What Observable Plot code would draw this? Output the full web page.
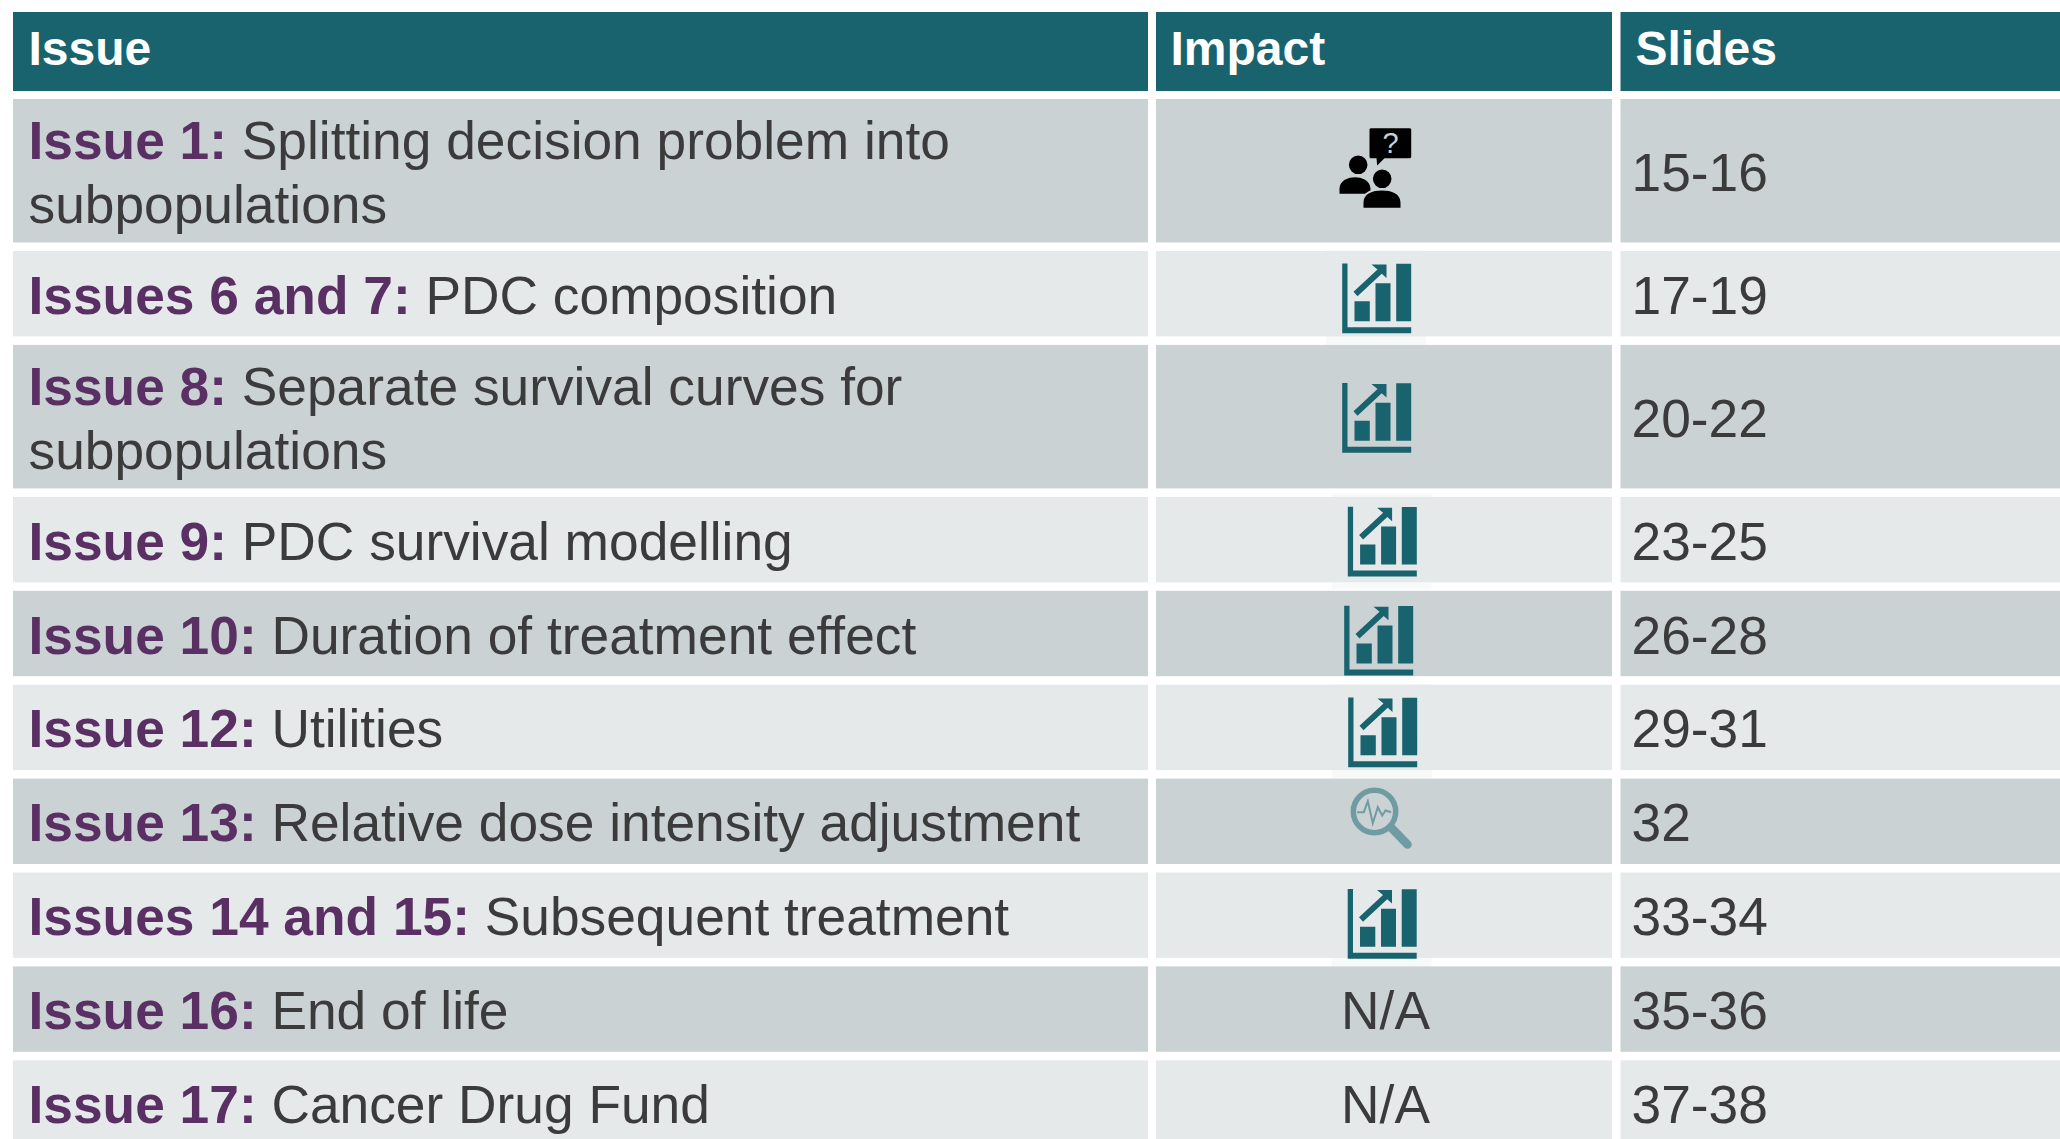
<!DOCTYPE html>
<html>
<head>
<meta charset="utf-8">
<script src="https://cdn.jsdelivr.net/npm/d3@7"></script>
<script src="https://cdn.jsdelivr.net/npm/@observablehq/plot@0.6"></script>
<style>
html,body{margin:0;padding:0;background:#fff;overflow:hidden}
svg{display:block}
</style>
</head>
<body>
<div id="chart"></div>
<script>
// ---- data ----
const headers = ["Issue", "Impact", "Slides"];
const issueLabels = ["Issue 1:", "Issues 6 and 7:", "Issue 8:", "Issue 9:", "Issue 10:", "Issue 12:", "Issue 13:", "Issues 14 and 15:", "Issue 16:", "Issue 17:"];
const issueTitles = [
  ["Splitting decision problem into", "subpopulations"],
  ["PDC composition"],
  ["Separate survival curves for", "subpopulations"],
  ["PDC survival modelling"],
  ["Duration of treatment effect"],
  ["Utilities"],
  ["Relative dose intensity adjustment"],
  ["Subsequent treatment"],
  ["End of life"],
  ["Cancer Drug Fund"]
];
const impacts = ["people", "chart", "chart", "chart", "chart", "chart", "search", "chart", "N/A", "N/A"];
const slides = ["15-16", "17-19", "20-22", "23-25", "26-28", "29-31", "32", "33-34", "35-36", "37-38"];

// ---- layout ----
const W = 2060, H = 1139;
const font = "'Liberation Sans', Arial, sans-serif";
const bodySize = 53.3, headSize = 48, lineGap = 63.7;
const colEdges = [[13, 1148], [1156, 1612], [1620.5, 2060]];
const colText = [28, 1170, 1631];
const headerBand = [12, 91];
const tableTop = 99, pitch = 93.9, doublePitch = 152, gap = 8.5;
const iconX = [1375, 1376, 1376, 1381.6, 1378, 1382, 1387, 1381.5];
const iconY = [167, 298, 417.5, 541.3, 640.3, 732, 822, 923.5];

const teal = "#19636e", darkRow = "#cbd2d4", lightRow = "#e5e9ea", purple = "#5a3064", ink = "#3b3b3b", patch = "#f8fafa";

const meas = document.createElement("canvas").getContext("2d");
meas.font = `bold ${bodySize}px ${font}`;

let cursor = tableTop;
const rows = issueLabels.map((label, i) => {
  const step = issueTitles[i].length > 1 ? doublePitch : pitch;
  const r = {
    i, label, titles: issueTitles[i], impact: impacts[i], slides: slides[i],
    y1: cursor, y2: cursor + step - gap, x: colText[0],
    restX: colText[0] + meas.measureText(label + " ").width
  };
  r.mid = (r.y1 + r.y2) / 2;
  cursor += step;
  return r;
});
const lines = rows.flatMap(r => r.titles.map((t, k) => ({
  text: t, x: k === 0 ? r.restX : colText[0],
  y: r.mid + (k - (r.titles.length - 1) / 2) * lineGap
})));
const labelRows = rows.map(r => ({
  label: r.label, y: r.mid + (r.titles.length > 1 ? -lineGap / 2 : 0)
}));
const cells = rows.flatMap(r => colEdges.map(c => ({x1: c[0], x2: c[1], y1: r.y1, y2: r.y2, odd: r.i % 2})));
const headCells = colEdges.map((c, k) => ({x1: c[0], x2: c[1], y1: headerBand[0], y2: headerBand[1], text: headers[k], tx: colText[k] + (k === 2 ? 4 : 0)}));

const iconRows = rows.filter(r => r.impact !== "N/A").map((r, k) => ({...r, ix: iconX[k], iy: iconY[k]}));
const ofKind = kind => iconRows.filter(r => r.impact === kind);
const textCell = rows.filter(r => r.impact === "N/A");
const patches = ofKind("chart").filter(r => r.i % 2).map(r => ({x1: r.ix - 50, x2: r.ix + 50, y1: r.iy - 48, y2: r.iy + 48}));

// ---- icon glyphs (drawn around the icon centre) ----
const poly = (c, pts) => { pts.forEach((p, k) => k ? c.lineTo(p[0], p[1]) : c.moveTo(p[0], p[1])); c.closePath(); };
const chartGlyph = {draw(c) {
  poly(c, [[-34.3, -35], [-29, -35], [-29, 28.7], [34.7, 28.7], [34.7, 34.7], [-34.3, 34.7]]);
  c.rect(-22, 2.7, 15.3, 20);
  c.rect(-1, -15.3, 15, 38);
  c.rect(19.7, -34.7, 15, 57.4);
  poly(c, [[-19, -2.3], [5.2, -24.8], [10, -20.5], [10, -34], [-5, -34], [1, -29], [-23, -6.7]]);
}};
const bubbleGlyph = {draw(c) {
  poly(c, [[-5, -39.3], [34.7, -39.3], [35.7, -38.3], [35.7, -10.3], [34.7, -9.3], [9, -9.3], [1.7, -2], [1, -9.3], [-5, -9.3], [-6, -10.3], [-6, -38.3]]);
}};
const person = (c, hx, hy, x0, x1, top, bot) => {
  c.moveTo(hx + 9.3, hy); c.arc(hx, hy, 9.3, 0, 2 * Math.PI); c.closePath();
  c.moveTo(x0, bot); c.lineTo(x0, bot - 5);
  c.bezierCurveTo(x0, top + 3, x0 + 9, top, (x0 + x1) / 2, top);
  c.bezierCurveTo(x1 - 9, top, x1, top + 3, x1, bot - 5);
  c.lineTo(x1, bot); c.closePath();
};
const personA = {draw(c) { person(c, -17.3, -2.7, -36, -5, 9.7, 26.3); }};
const personB = {draw(c) { person(c, 6.7, 11.3, -12, 25, 23, 40.3); }};
const ringGlyph = {draw(c) { c.moveTo(8.2, -11); c.arc(-13, -11, 21.2, 0, 2 * Math.PI); }};
const handleGlyph = {draw(c) { c.moveTo(4.5, 6); c.lineTo(20, 22); }};
const pulseGlyph = {draw(c) {
  [[-30.3, -10.3], [-23.7, -10.3], [-19.7, -21.3], [-14.7, .7], [-9.7, -15.3], [-5.3, -7], [-2, -12], [3.7, -10.3]]
    .forEach((p, k) => k ? c.lineTo(p[0], p[1]) : c.moveTo(p[0], p[1]));
}};
const searchTint = "#6f9ca2";
const iconAt = {x: "ix", y: "iy", r: 1};

const plot = Plot.plot({
  width: W, height: H,
  margin: 0,
  style: {background: "#ffffff", fontFamily: font},
  x: {domain: [0, W], range: [0, W], axis: null},
  y: {domain: [0, H], range: [0, H], axis: null},
  marks: [
    Plot.rect(patches, {x1: "x1", x2: "x2", y1: "y1", y2: "y2", fill: patch}),
    Plot.rect(headCells, {x1: "x1", x2: "x2", y1: "y1", y2: "y2", fill: teal}),
    Plot.rect(cells.filter(d => !d.odd), {x1: "x1", x2: "x2", y1: "y1", y2: "y2", fill: darkRow}),
    Plot.rect(cells.filter(d => d.odd), {x1: "x1", x2: "x2", y1: "y1", y2: "y2", fill: lightRow}),

    Plot.text(headCells, {x: "tx", y: (headerBand[0] + headerBand[1]) / 2, text: "text", textAnchor: "start", lineAnchor: "middle", dy: -2, fontSize: headSize, fontWeight: "bold", fill: "#ffffff"}),
    Plot.text(labelRows, {x: colText[0], y: "y", text: "label", textAnchor: "start", lineAnchor: "middle", dy: 2.5, fontSize: bodySize, fontWeight: "bold", fill: purple}),
    Plot.text(lines, {x: "x", y: "y", text: "text", textAnchor: "start", lineAnchor: "middle", dy: 2.5, fontSize: bodySize, fill: ink}),
    Plot.text(rows, {x: colText[2], y: "mid", text: "slides", textAnchor: "start", lineAnchor: "middle", dy: 2.5, fontSize: bodySize, fill: ink}),
    Plot.text(textCell, {x: 1385, y: "mid", text: "impact", textAnchor: "middle", lineAnchor: "middle", dy: 2.5, fontSize: bodySize, fill: ink}),

    Plot.dot(ofKind("chart"), {...iconAt, symbol: chartGlyph, fill: teal, stroke: "none"}),

    Plot.dot(ofKind("people"), {...iconAt, symbol: bubbleGlyph, fill: "#000000", stroke: "none"}),
    Plot.dot(ofKind("people"), {...iconAt, symbol: personA, fill: "#000000", stroke: "none"}),
    Plot.dot(ofKind("people"), {...iconAt, symbol: personB, fill: "#000000", stroke: darkRow, strokeWidth: 4, paintOrder: "stroke"}),
    Plot.text(ofKind("people"), {x: "ix", y: "iy", text: () => "?", dx: 15, dy: -24, lineAnchor: "middle", textAnchor: "middle", fontSize: 29, fill: darkRow}),

    Plot.dot(ofKind("search"), {...iconAt, symbol: ringGlyph, fill: "none", stroke: searchTint, strokeWidth: 5.5}),
    Plot.dot(ofKind("search"), {...iconAt, symbol: handleGlyph, fill: "none", stroke: searchTint, strokeWidth: 8.5, strokeLinecap: "round"}),
    Plot.dot(ofKind("search"), {...iconAt, symbol: pulseGlyph, fill: "none", stroke: searchTint, strokeWidth: 2})
  ]
});
document.getElementById("chart").append(plot);
</script>
</body>
</html>
